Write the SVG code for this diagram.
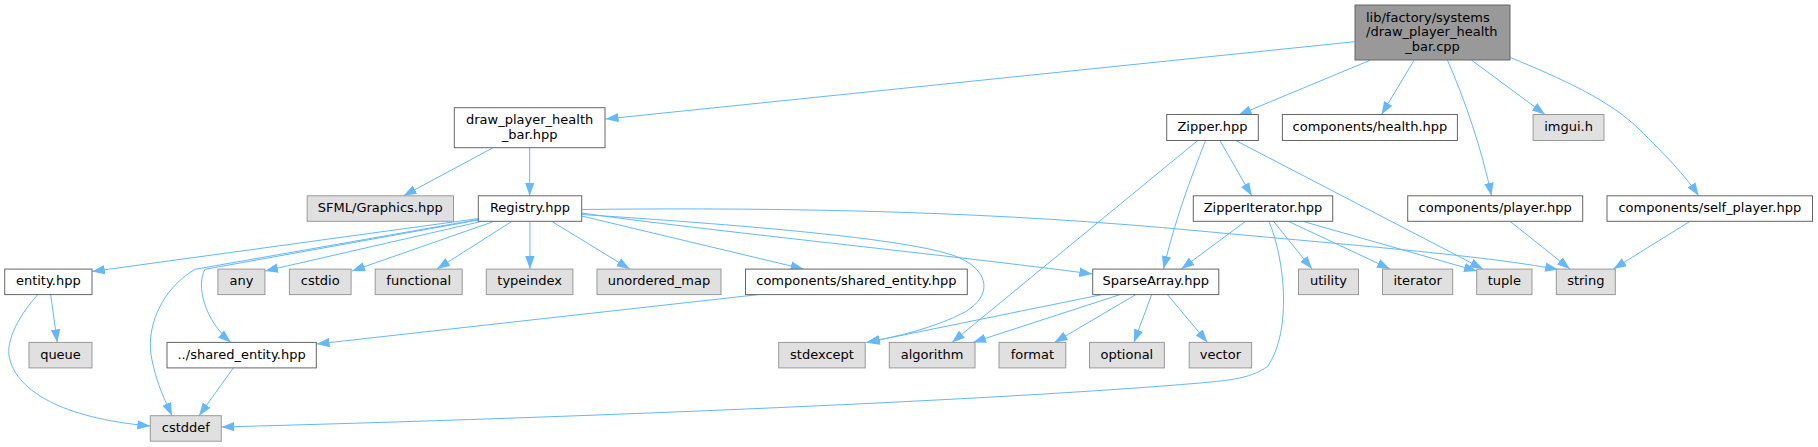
<svg xmlns="http://www.w3.org/2000/svg" width="1818" height="447" viewBox="0 0 1818 447">
<style>
.n rect{fill:#ffffff;stroke:#666666;stroke-width:1}
.g rect{fill:#e0e0e0;stroke:#999999;stroke-width:1}
.m rect{fill:#999999;stroke:#666666;stroke-width:1}
text{font-family:"DejaVu Sans","Liberation Sans",sans-serif;font-size:13px;fill:#000000}
.c{text-anchor:middle}
#edges path{fill:none;stroke:#63b8ff;stroke-width:1;marker-end:url(#ah)}
</style>
<defs>
<marker id="ah" markerUnits="userSpaceOnUse" markerWidth="13" markerHeight="10" refX="13" refY="5" orient="auto" viewBox="0 0 13 10">
<path d="M0,0.3 L13,5 L0,9.7 z" fill="#63b8ff"/>
</marker>
</defs>
<rect width="1818" height="447" fill="#ffffff"/>
<g id="edges">
<path d="M1354.7,41.7 L605.5,119"/>
<path d="M1370,60.3 L1238.5,115"/>
<path d="M1414,60.3 L1381.5,114.5"/>
<path d="M1447.5,60.3 C1465,100 1482,150 1491.5,195.8"/>
<path d="M1471.7,60.3 L1545,114.5"/>
<path d="M1510.2,57.5 C1560,78 1610,100 1640,130 C1665,155 1685,175 1698.6,195.8"/>
<path d="M492.5,148 L403.5,195.8"/>
<path d="M529.7,148 L529.7,195.8"/>
<path d="M1220,140.7 L1251.7,195.8"/>
<path d="M1205.5,140.7 C1190,180 1175,220 1163.5,269"/>
<path d="M1197.5,140.7 L952,342.4"/>
<path d="M1236,140.7 L1483,269"/>
<path d="M1245.3,221.5 L1181.3,269"/>
<path d="M1273.7,221.5 L1312,269"/>
<path d="M1288.7,221.5 L1390,269"/>
<path d="M1303.3,221.5 L1477,271"/>
<path d="M1269,221.5 C1285,260 1292,330 1268,366 C1250,380 1220,381 1200,383 C1000,400 600,417 221.3,427"/>
<path d="M478.4,218.5 L91.9,271.5"/>
<path d="M482,221.3 L265,271"/>
<path d="M494.3,221.3 L352,271"/>
<path d="M512,221.3 L437,269"/>
<path d="M529.9,221.3 L529.9,269"/>
<path d="M551.6,221.3 L629.7,269"/>
<path d="M581.7,216 L803.6,269"/>
<path d="M581.7,213 C700,230 950,255 1092.3,274"/>
<path d="M581.7,214.5 C760,226 920,240 960,258 C990,272 992,296 965,312 C935,328 895,337 866,342.5"/>
<path d="M581.7,209.5 C800,207 1000,212 1200,231 C1350,245 1480,255 1558,269.5"/>
<path d="M478.4,220 L205,269.3 C196,285 204,320 231,342.4"/>
<path d="M478.4,219.5 L195,269.3 C160,290 145,330 152,360 C157,385 165,400 172,415.7"/>
<path d="M758.2,294.6 L316.5,344"/>
<path d="M233.3,368 L199,415.7"/>
<path d="M50.7,294.6 L57.3,342.4"/>
<path d="M37.7,294.6 C15,320 5,345 10,360 C18,390 60,418 150.3,426"/>
<path d="M1102,294.6 L867,342.4"/>
<path d="M1120,294.6 L973,342.4"/>
<path d="M1135.8,294.6 L1054.5,342.4"/>
<path d="M1151.6,294.6 L1134,342.4"/>
<path d="M1167.4,294.6 L1207.5,342.4"/>
<path d="M1510,221.3 L1570,269"/>
<path d="M1690,221.3 L1613.3,269"/>
</g>
<g id="node_main" class="m"><rect x="1355" y="5" width="155" height="55"/><text x="1366" y="21.5">lib/factory/systems</text><text x="1366" y="36">/draw_player_health</text><text class="c" x="1432.5" y="50.5">_bar.cpp</text></g>
<g id="node_dphb" class="n"><rect x="454.3" y="107.7" width="150.7" height="40"/><text x="466" y="124.3">draw_player_health</text><text class="c" x="529.7" y="138.8">_bar.hpp</text></g>
<g id="node_zipper" class="n"><rect x="1166.7" y="114.5" width="91.6" height="26"/><text class="c" x="1212.5" y="131">Zipper.hpp</text></g>
<g id="node_health" class="n"><rect x="1282.4" y="114.5" width="175" height="26"/><text class="c" x="1369.9" y="131">components/health.hpp</text></g>
<g id="node_imgui" class="g"><rect x="1533.1" y="114.5" width="70.9" height="26"/><text class="c" x="1568.5" y="131">imgui.h</text></g>
<g id="node_sfml" class="g"><rect x="307.2" y="195.8" width="146.3" height="25.5"/><text class="c" x="380.3" y="212">SFML/Graphics.hpp</text></g>
<g id="node_registry" class="n"><rect x="478.3" y="195.8" width="103.4" height="25.5"/><text class="c" x="530" y="212">Registry.hpp</text></g>
<g id="node_zipperiterator" class="n"><rect x="1193.3" y="195.8" width="139.4" height="25.5"/><text class="c" x="1263" y="212">ZipperIterator.hpp</text></g>
<g id="node_player" class="n"><rect x="1407.7" y="195.8" width="175" height="25.5"/><text class="c" x="1495.2" y="212">components/player.hpp</text></g>
<g id="node_self_player" class="n"><rect x="1607" y="195.8" width="205.5" height="25.5"/><text class="c" x="1709.8" y="212">components/self_player.hpp</text></g>
<g id="node_entity" class="n"><rect x="4.7" y="269.1" width="87.3" height="25.5"/><text class="c" x="48.3" y="285.3">entity.hpp</text></g>
<g id="node_any" class="g"><rect x="217.9" y="269.1" width="47" height="25.5"/><text class="c" x="241.4" y="285.3">any</text></g>
<g id="node_cstdio" class="g"><rect x="289.4" y="269.1" width="61.7" height="25.5"/><text class="c" x="320.2" y="285.3">cstdio</text></g>
<g id="node_functional" class="g"><rect x="375.2" y="269.1" width="87" height="25.5"/><text class="c" x="418.7" y="285.3">functional</text></g>
<g id="node_typeindex" class="g"><rect x="486.3" y="269.1" width="86.6" height="25.5"/><text class="c" x="529.6" y="285.3">typeindex</text></g>
<g id="node_unordered_map" class="g"><rect x="597" y="269.1" width="124" height="25.5"/><text class="c" x="659" y="285.3">unordered_map</text></g>
<g id="node_comp_shared_entity" class="n"><rect x="745.5" y="269.1" width="221.8" height="25.5"/><text class="c" x="856.4" y="285.3">components/shared_entity.hpp</text></g>
<g id="node_sparsearray" class="n"><rect x="1092.7" y="269.1" width="126.1" height="25.5"/><text class="c" x="1155.7" y="285.3">SparseArray.hpp</text></g>
<g id="node_utility" class="g"><rect x="1298.5" y="269.1" width="60" height="25.5"/><text class="c" x="1328.5" y="285.3">utility</text></g>
<g id="node_iterator" class="g"><rect x="1382.5" y="269.1" width="70.2" height="25.5"/><text class="c" x="1417.6" y="285.3">iterator</text></g>
<g id="node_tuple" class="g"><rect x="1476.7" y="269.1" width="55.3" height="25.5"/><text class="c" x="1504.3" y="285.3">tuple</text></g>
<g id="node_string" class="g"><rect x="1556.3" y="269.1" width="59" height="25.5"/><text class="c" x="1585.8" y="285.3">string</text></g>
<g id="node_queue" class="g"><rect x="29" y="342.4" width="63" height="25.5"/><text class="c" x="60.5" y="358.6">queue</text></g>
<g id="node_shared_entity" class="n"><rect x="167" y="342.4" width="149.3" height="25.5"/><text class="c" x="241.6" y="358.6">../shared_entity.hpp</text></g>
<g id="node_stdexcept" class="g"><rect x="778.7" y="342.4" width="86.5" height="25.5"/><text class="c" x="822" y="358.6">stdexcept</text></g>
<g id="node_algorithm" class="g"><rect x="889.3" y="342.4" width="85.7" height="25.5"/><text class="c" x="932.1" y="358.6">algorithm</text></g>
<g id="node_format" class="g"><rect x="999" y="342.4" width="66.8" height="25.5"/><text class="c" x="1032.4" y="358.6">format</text></g>
<g id="node_optional" class="g"><rect x="1089.5" y="342.4" width="74.8" height="25.5"/><text class="c" x="1126.9" y="358.6">optional</text></g>
<g id="node_vector" class="g"><rect x="1189.2" y="342.4" width="62.4" height="25.5"/><text class="c" x="1220.4" y="358.6">vector</text></g>
<g id="node_cstddef" class="g"><rect x="150.3" y="415.7" width="71" height="25.5"/><text class="c" x="185.8" y="431.9">cstddef</text></g>
</svg>
